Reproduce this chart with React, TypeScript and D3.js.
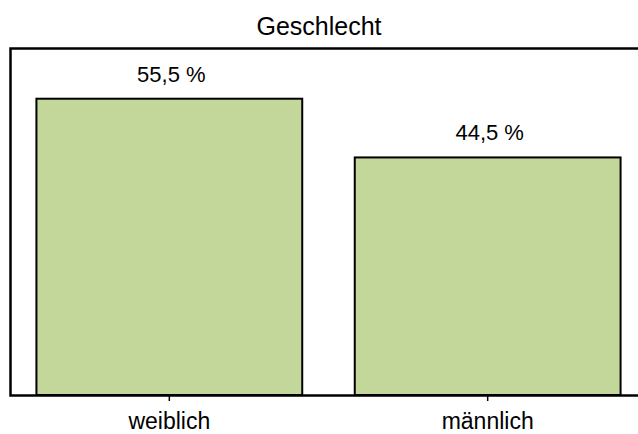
import * as d3 from "d3";
import { useEffect, useRef } from "react";

// data
const categories = ["weiblich", "männlich"];
const shares = [55.5, 44.5];
const chartTitle = "Geschlecht";

const width = 638;
const height = 434;
const margin = { top: 48, left: 10, bottom: 39 };

const App = () => {
	const svgRef = useRef<SVGSVGElement | null>(null);

	useEffect(() => {
		const svg = d3.select(svgRef.current);
		svg.selectAll("*").remove();

		const plotBottom = height - margin.bottom;

		//band scale runs off the right edge, like the reference frame
		const xScale = d3
			.scaleBand()
			.domain(categories)
			.range([margin.left, 647])
			.paddingInner(0.165)
			.paddingOuter(0.083);

		const yScale = d3.scaleLinear().domain([0, 65]).range([plotBottom, margin.top]);

		svg.append("rect").attr("width", width).attr("height", height).attr("fill", "white");

		svg
			.append("g")
			.selectAll("rect")
			.data(shares)
			.enter()
			.append("rect")
			.attr("x", (_, i) => xScale(categories[i])!)
			.attr("y", (d) => yScale(d))
			.attr("width", xScale.bandwidth())
			.attr("height", (d) => plotBottom - yScale(d))
			.attr("fill", "#c4d79b")
			.attr("stroke", "#000")
			.attr("stroke-width", 2);

		//value labels
		svg
			.append("g")
			.selectAll("text")
			.data(shares)
			.enter()
			.append("text")
			.attr("x", (_, i) => xScale(categories[i])! + xScale.bandwidth() / 2 + 2)
			.attr("y", (d) => yScale(d) - 17)
			.attr("text-anchor", "middle")
			.attr("font-family", "Liberation Sans, Arial, sans-serif")
			.attr("font-size", 22)
			.text((d) => `${d.toFixed(1).replace(".", ",")} %`);

		//frame: left, top, bottom (right side is outside the picture)
		svg
			.append("rect")
			.attr("x", margin.left + 0.5)
			.attr("y", margin.top + 0.5)
			.attr("width", 660)
			.attr("height", plotBottom - margin.top)
			.attr("fill", "none")
			.attr("stroke", "#000")
			.attr("stroke-width", 2.5);

		const xAxis = d3.axisBottom(xScale).tickSize(5).tickPadding(12);
		const xAxisGroup = svg
			.append("g")
			.attr("transform", `translate(0, ${plotBottom + 1})`)
			.call(xAxis);
		xAxisGroup.select(".domain").remove();
		xAxisGroup.selectAll("line").attr("stroke", "#000").attr("stroke-width", 1.5);
		xAxisGroup
			.selectAll("text")
			.attr("font-family", "Liberation Sans, Arial, sans-serif")
			.attr("font-size", 23)
			.attr("fill", "#000");

		svg
			.append("text")
			.attr("x", width / 2)
			.attr("y", 35)
			.attr("text-anchor", "middle")
			.attr("font-family", "Liberation Sans, Arial, sans-serif")
			.attr("font-size", 25)
			.text(chartTitle);
	}, []);

	return (
		<svg
			ref={svgRef}
			width={width}
			height={height}
			style={{ position: "absolute", left: 0, top: 0, display: "block" }}
		/>
	);
};

export default App;
